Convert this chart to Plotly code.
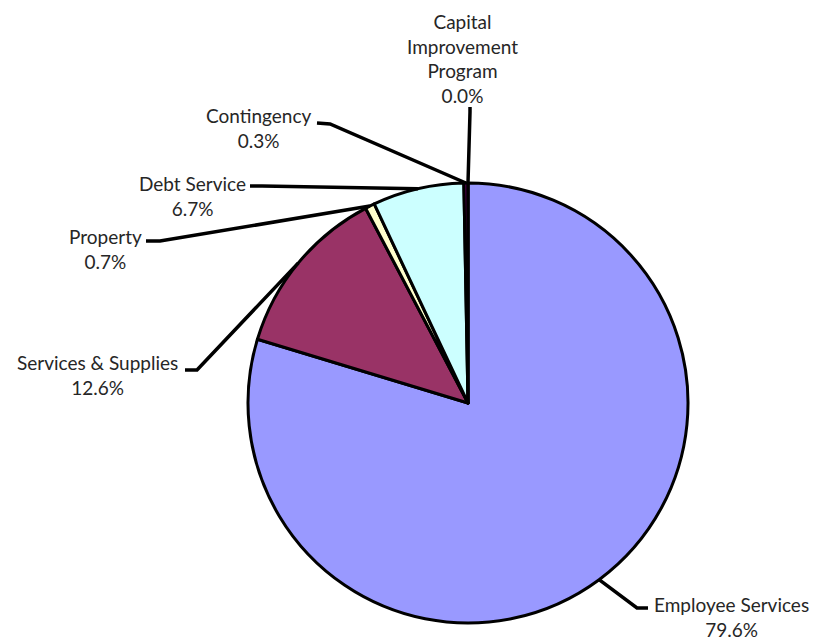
import math
import plotly.graph_objects as go

W, H = 817, 643

categories = ["Employee Services", "Services & Supplies", "Property",
              "Debt Service", "Contingency", "Capital<br>Improvement<br>Program"]
values = [79.6, 12.6, 0.7, 6.7, 0.3, 0.0]
colors = ["#9999FF", "#993366", "#FFFFCC", "#CCFFFF", "#660066", "#FF8080"]

# layout: pie center / radius in pixels
CX, CY, R = 468, 403, 220
# label block centres and leader-line outer/elbow points (pixels)
label_pos = [(731, 617), (97, 375), (105, 249), (192, 196), (258, 128), (462, 59)]
leader_outer = [((648, 608), (637, 608)),
                ((185, 370), (197, 370)),
                ((146, 241), (160, 241)),
                ((250, 186), (262, 186)),
                ((317, 123), (330, 124)),
                ((470, 107), (470, 112))]

def px(x):
    return x / W

def py(y):
    return 1 - y / H

fig = go.Figure()
fig.add_trace(go.Pie(
    labels=categories, values=values, sort=False, direction="clockwise",
    rotation=0, textinfo="none", hoverinfo="label+percent",
    marker=dict(colors=colors, line=dict(color="black", width=3)),
    domain=dict(x=[px(CX - R), px(CX + R)], y=[py(CY + R), py(CY - R)]),
    showlegend=False,
))

total = sum(values)
cum = 0.0
shapes = []
annotations = []
for i, (cat, v) in enumerate(zip(categories, values)):
    mid = (cum + v / 2) / total * 2 * math.pi
    cum += v
    ex = CX + R * math.sin(mid)
    ey = CY - R * math.cos(mid)
    (ox, oy), (bx, by) = leader_outer[i]
    path = f"M {px(ox)} {py(oy)} L {px(bx)} {py(by)} L {px(ex)} {py(ey)}"
    shapes.append(dict(type="path", xref="paper", yref="paper", path=path,
                       line=dict(color="black", width=3.5)))
    lx, ly = label_pos[i]
    annotations.append(dict(
        x=px(lx), y=py(ly), xref="paper", yref="paper", showarrow=False,
        text=f"{cat}<br>{v:.1f}%", align="center", xanchor="center", yanchor="middle",
        font=dict(family="Lato", size=19, color="#262626")))

fig.update_layout(
    width=W, height=H, margin=dict(l=0, r=0, t=0, b=0),
    paper_bgcolor="white", plot_bgcolor="white",
    shapes=shapes, annotations=annotations,
)

fig.write_html("out.html", config={"displayModeBar": False},
               post_script="document.body.style.margin='0';document.body.style.overflow='hidden';")
